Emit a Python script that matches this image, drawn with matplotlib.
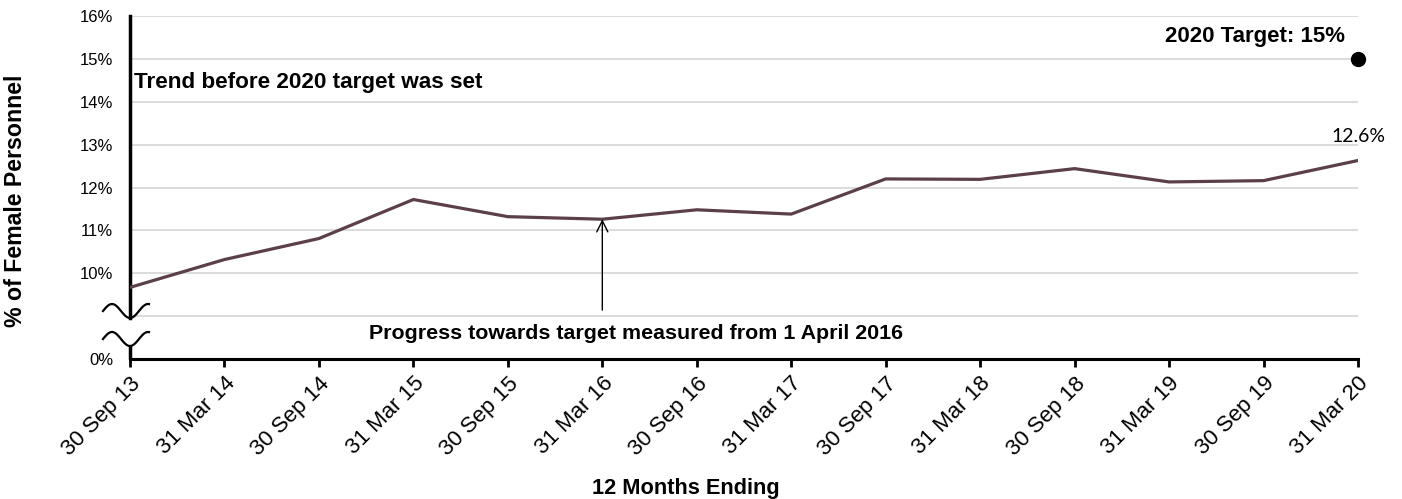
import numpy as np
import matplotlib
matplotlib.use("Agg")
import matplotlib.pyplot as plt
from matplotlib.lines import Line2D

plt.rcParams['font.family'] = ['Liberation Sans', 'DejaVu Sans']

periods = ['30 Sep 13', '31 Mar 14', '30 Sep 14', '31 Mar 15', '30 Sep 15', '31 Mar 16',
           '30 Sep 16', '31 Mar 17', '30 Sep 17', '31 Mar 18', '30 Sep 18', '31 Mar 19',
           '30 Sep 19', '31 Mar 20']
female_pct = [9.67, 10.32, 10.81, 11.72, 11.32, 11.26, 11.48, 11.38, 12.2, 12.19,
              12.44, 12.13, 12.16, 12.63]
target = 15
# axis is broken: 8 on the scale stands for 0%
ytick_vals = [8, 9, 10, 11, 12, 13, 14, 15, 16]
ytick_labels = ['0%', '', '10%', '11%', '12%', '13%', '14%', '15%', '16%']

W, H = 1402, 499
fig = plt.figure(figsize=(W / 100, H / 100), dpi=100)
ax = fig.add_axes([130 / W, 1 - 359 / H, 1228 / W, 343 / H])

x = np.arange(len(periods))
ax.plot(x, female_pct, color='#5B3F4B', lw=2.3, solid_joinstyle='miter', zorder=3)
ax.plot(len(periods) - 1, target, 'o', color='black', ms=10, clip_on=False, zorder=4)

ax.set_xlim(0, len(periods) - 1)
ax.set_ylim(8, 16)
ax.set_yticks(ytick_vals)
ax.set_yticklabels(ytick_labels, fontsize=12)
ax.set_xticks(x)
ax.set_xticklabels(periods, rotation=45, ha='right', rotation_mode='anchor', fontsize=16)
ax.tick_params(axis='y', length=0, pad=12)
ax.tick_params(axis='x', length=6, width=2, pad=4)
ax.grid(axis='y', color='#D9D9D9', lw=1.3)
ax.set_axisbelow(True)

for s in ['top', 'right']:
    ax.spines[s].set_visible(False)
ax.spines['bottom'].set_linewidth(2.2)
ax.spines['left'].set_linewidth(2.5)
ax.spines['left'].set_bounds(8.95, 16)
ax.plot([0, 0], [8, 8.3], color='black', lw=2.5, clip_on=False, solid_capstyle='butt')

# break marks on the y axis
wx = np.linspace(103, 149, 60)
for c in [311, 339]:
    wy = c - 7 * np.cos(2 * np.pi * (wx - 112) / 36)
    fig.add_artist(Line2D(wx / W, 1 - wy / H, color='black', lw=1.6))

ax.set_ylabel('% of Female Personnel', fontsize=16.7, fontweight='bold')
ax.yaxis.set_label_coords(-0.084, 0.46)
ax.set_xlabel('12 Months Ending', fontsize=15.7, fontweight='bold')
ax.xaxis.set_label_coords(0.453, -0.348)

ax.text(0.04, 14.46, 'Trend before 2020 target was set', fontsize=16.2,
        fontweight='bold', va='center', ha='left')
ax.annotate('2020 Target: 15%', (len(periods) - 1, target), xytext=(-13, 22),
            textcoords='offset pixels', ha='right', va='center', fontsize=16,
            fontweight='bold')
ax.annotate('12.6%', (len(periods) - 1, female_pct[-1]), xytext=(0, 24),
            textcoords='offset pixels', ha='center', va='center', fontsize=14,
            family=['Lato', 'DejaVu Sans'], annotation_clip=False)
ax.text(5.36, 8.6, 'Progress towards target measured from 1 April 2016',
        fontsize=15.4, fontweight='bold', ha='center', va='center')
ax.annotate('', xy=(5, female_pct[5]), xytext=(5, 9.14),
            arrowprops=dict(arrowstyle='->', color='black', lw=1, shrinkA=0, shrinkB=0,
                            mutation_scale=20))

fig.savefig('out.png', dpi=100)
